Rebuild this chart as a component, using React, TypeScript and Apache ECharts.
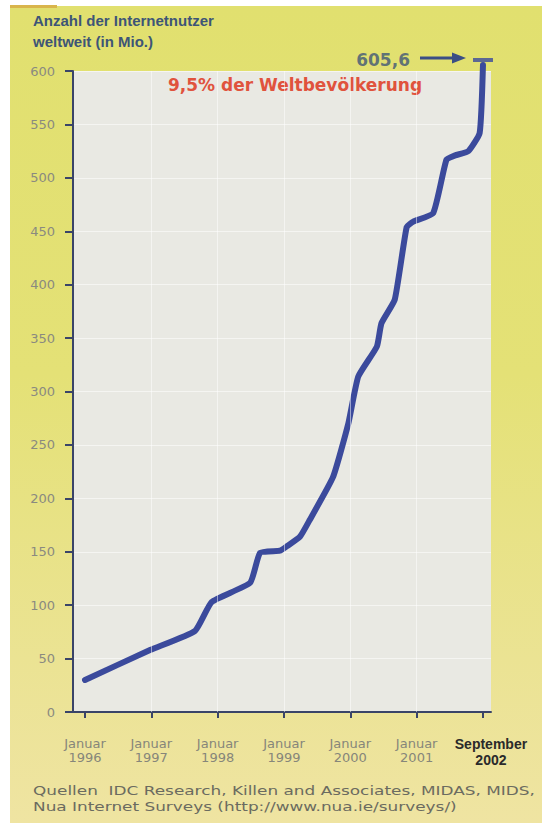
import React, { useEffect, useRef } from "react";
import * as echarts from "echarts";

// x position in axis-tick units (0 = Januar 1996 ... 5 = Januar 2001, 6 = September 2002)
const tickPos = [0, 1, 2, 3, 4, 5, 6];
const tickLabels = ["Januar\n1996", "Januar\n1997", "Januar\n1998", "Januar\n1999", "Januar\n2000", "Januar\n2001", "September\n2002"];
const xPos = [0, 0.98, 1.66, 1.91, 2.49, 2.64, 2.94, 3.04, 3.24, 3.39, 3.74, 3.97, 4.12, 4.40, 4.47, 4.67, 4.85, 4.95, 5.25, 5.45, 5.58, 5.78, 5.95, 6.0];
const users = [30, 58, 76, 103, 121, 149, 151, 155, 164, 180, 220, 270, 314, 342, 364, 386, 454, 459, 467, 517, 521, 525, 542, 605.6];
const yTicks = { min: 0, max: 600, interval: 50 };

const titleLines = ["Anzahl der Internetnutzer", "weltweit (in Mio.)"];
const noteText = "9,5% der Weltbevölkerung";
const sourceLines = [
  "Quellen  IDC Research, Killen and Associates, MIDAS, MIDS,",
  "Nua Internet Surveys (http://www.nua.ie/surveys/)",
];

const LINE = "#3b4a9c";
const AXIS = "#3a4468";

export default function App() {
  const ref = useRef<HTMLDivElement>(null);
  useEffect(() => {
    if (!ref.current) return;
    const chart = echarts.init(ref.current, null, { renderer: "svg" });
    const last = xPos.length - 1;
    const lastTick = tickPos.length - 1;
    const xMax = 6.121;
    // the last label sits a little to the right of its tick, as in the original
    const labelPos = tickPos.map((v, i) => (i === lastTick ? Math.min(v + 0.12, xMax) : v));
    chart.setOption({
      animation: false,
      backgroundColor: "transparent",
      grid: { left: 73, right: 51, top: 71, bottom: 113, show: true, backgroundColor: "#e9e9e3", borderWidth: 0 },
      xAxis: {
        type: "value",
        min: -0.181,
        max: xMax,
        axisLine: { show: true, onZero: false, lineStyle: { color: AXIS, width: 2 } },
        axisTick: { show: true, customValues: tickPos, length: 6, lineStyle: { color: AXIS, width: 2 } },
        splitLine: { show: false },
        axisLabel: {
          customValues: labelPos,
          showMaxLabel: true,
          showMinLabel: true,
          margin: 24,
          color: "#86867a",
          fontSize: 13,
          lineHeight: 14,
          fontFamily: "DejaVu Sans",
          formatter: (v: number) => {
            const i = tickPos.indexOf(Math.round(v));
            const t = tickLabels[i] || "";
            if (i === lastTick) {
              return t.split("\n").map((s) => "{b|" + s + "}").join("\n");
            }
            return t;
          },
          rich: {
            b: { fontWeight: "bold", color: "#2a2a2a", fontSize: 14, lineHeight: 16, fontFamily: "Liberation Sans" },
          },
        },
      },
      yAxis: {
        type: "value",
        min: yTicks.min,
        max: yTicks.max,
        interval: yTicks.interval,
        axisLine: { show: true, onZero: false, lineStyle: { color: AXIS, width: 2 } },
        axisTick: { show: true, length: 8, lineStyle: { color: AXIS, width: 2 } },
        axisLabel: { color: "#8a8a80", fontSize: 13, fontFamily: "DejaVu Sans", margin: 18 },
        splitLine: { show: true, lineStyle: { color: "rgba(255,255,255,0.55)", width: 1 } },
      },
      series: [
        {
          type: "line",
          data: xPos.map((x, i) => [x, users[i]]),
          showSymbol: false,
          clip: false,
          smooth: 0.15,
          lineStyle: { color: LINE, width: 6, join: "round", cap: "round" },
          markLine: {
            silent: true,
            symbol: "none",
            label: { show: false },
            lineStyle: { color: "rgba(255,255,255,0.5)", width: 1, type: "solid" },
            data: tickPos.slice(1, 6).map((v) => ({ xAxis: v })),
          },
        },
        {
          type: "scatter",
          clip: false,
          data: [[xPos[last], users[last]]],
          symbol: "rect",
          symbolSize: [20, 4],
          symbolOffset: [0, -5],
          itemStyle: { color: LINE },
          label: {
            show: true,
            position: "left",
            distance: 63,
            offset: [0, 0],
            color: "#3d5577",
            fontWeight: "bold",
            fontSize: 17,
            fontFamily: "DejaVu Sans",
            formatter: (p: any) => String(p.value[1]).replace(".", ","),
          },
        },
      ],
      graphic: [
        {
          type: "text",
          left: 33,
          top: 10,
          style: {
            text: titleLines.join("\n"),
            fill: "#3d5577",
            font: "bold 15px 'Liberation Sans'",
            lineHeight: 21,
          },
        },
        {
          type: "text",
          x: 295,
          y: 85,
          style: {
            text: noteText,
            fill: "#e0533d",
            font: "bold 17px 'DejaVu Sans'",
            textAlign: "center",
            textVerticalAlign: "middle",
          },
        },
        { type: "line", shape: { x1: 420, y1: 58, x2: 456, y2: 58 }, style: { stroke: "#3a4e85", lineWidth: 3 } },
        { type: "polygon", shape: { points: [[452, 52.5], [466, 58], [452, 63.5]] }, style: { fill: "#3a4e85" } },
        {
          type: "text",
          x: 33,
          y: 783,
          scaleX: 1.3,
          style: {
            text: sourceLines.join("\n"),
            fill: "#6b6b60",
            font: "13px 'DejaVu Sans'",
            lineHeight: 16,
          },
        },
      ],
    });
    return () => chart.dispose();
  }, []);
  return (
    <div style={{ position: "absolute", left: 0, top: 0, width: 542, height: 825, background: "#fff", overflow: "hidden" }}>
      <div style={{ position: "absolute", left: 10, top: 6, right: 0, bottom: 2, background: "linear-gradient(180deg, #e1e06f 0%, #e4e176 45%, #ebe393 80%, #efe4a2 100%)" }} />
      <div style={{ position: "absolute", left: 10, top: 5, width: 47, height: 3, background: "#d9b54c" }} />
      <div ref={ref} style={{ position: "absolute", left: 0, top: 0, width: 542, height: 825 }} />
    </div>
  );
}
